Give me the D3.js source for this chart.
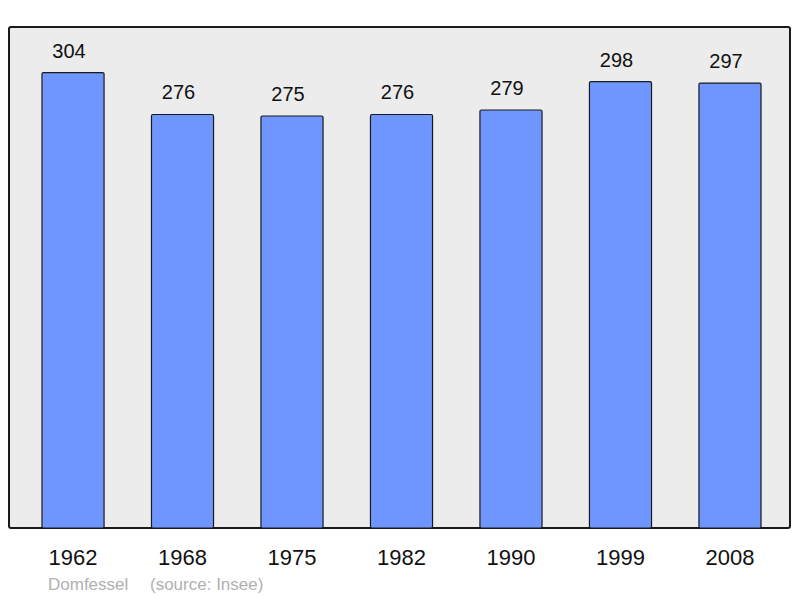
<!DOCTYPE html>
<html><head><meta charset="utf-8">
<script src="https://cdn.jsdelivr.net/npm/d3@7"></script>
<style>body{margin:0;background:#fff}svg{display:block}text{font-family:"Liberation Sans",Arial,sans-serif}</style>
</head><body><svg id="c" width="800" height="598"></svg>
<script>
const years = ["1962","1968","1975","1982","1990","1999","2008"];
const population = [304,276,275,276,279,298,297];
const commune = "Domfessel";
const source = "(source: Insee)";

const svg = d3.select("#c");
const panel = {x0: 9, x1: 790, y0: 27, y1: 528};
const x = d3.scaleBand().domain(years).range([18, 785]).paddingInner(0.433).paddingOuter(0.219);
const y = d3.scaleLinear().domain([0, d3.max(population) * 1.1]).range([panel.y1, panel.y0]);

svg.append("rect").attr("x", panel.x0).attr("y", panel.y0)
  .attr("width", panel.x1 - panel.x0).attr("height", panel.y1 - panel.y0)
  .attr("rx", 2).attr("fill", "#ececec").attr("stroke", "#1a1a1a").attr("stroke-width", 2);

const data = years.map((yr, i) => ({yr, v: population[i]}));
svg.selectAll("rect.bar").data(data).join("rect").attr("class", "bar")
  .attr("x", d => x(d.yr)).attr("y", d => y(d.v))
  .attr("width", x.bandwidth()).attr("height", d => y(0) - y(d.v))
  .attr("rx", 1.5).attr("fill", "#6f96ff").attr("stroke", "#1a1a1a").attr("stroke-width", 1.2);

svg.selectAll("text.val").data(data).join("text").attr("class", "val")
  .attr("x", d => x(d.yr) + x.bandwidth() / 2 - 4).attr("y", d => y(d.v) - 15)
  .attr("text-anchor", "middle").attr("font-size", 20).attr("fill", "#111")
  .text(d => d.v);

svg.selectAll("text.yr").data(years).join("text").attr("class", "yr")
  .attr("x", d => x(d) + x.bandwidth() / 2).attr("y", 565)
  .attr("text-anchor", "middle").attr("font-size", 22).attr("fill", "#111")
  .text(d => d);

svg.append("text").attr("x", 48).attr("y", 590).attr("font-size", 17).attr("fill", "#b0b0b0")
  .text(commune);
svg.append("text").attr("x", 150).attr("y", 590).attr("font-size", 17).attr("fill", "#b0b0b0")
  .text(source);
</script></body></html>
